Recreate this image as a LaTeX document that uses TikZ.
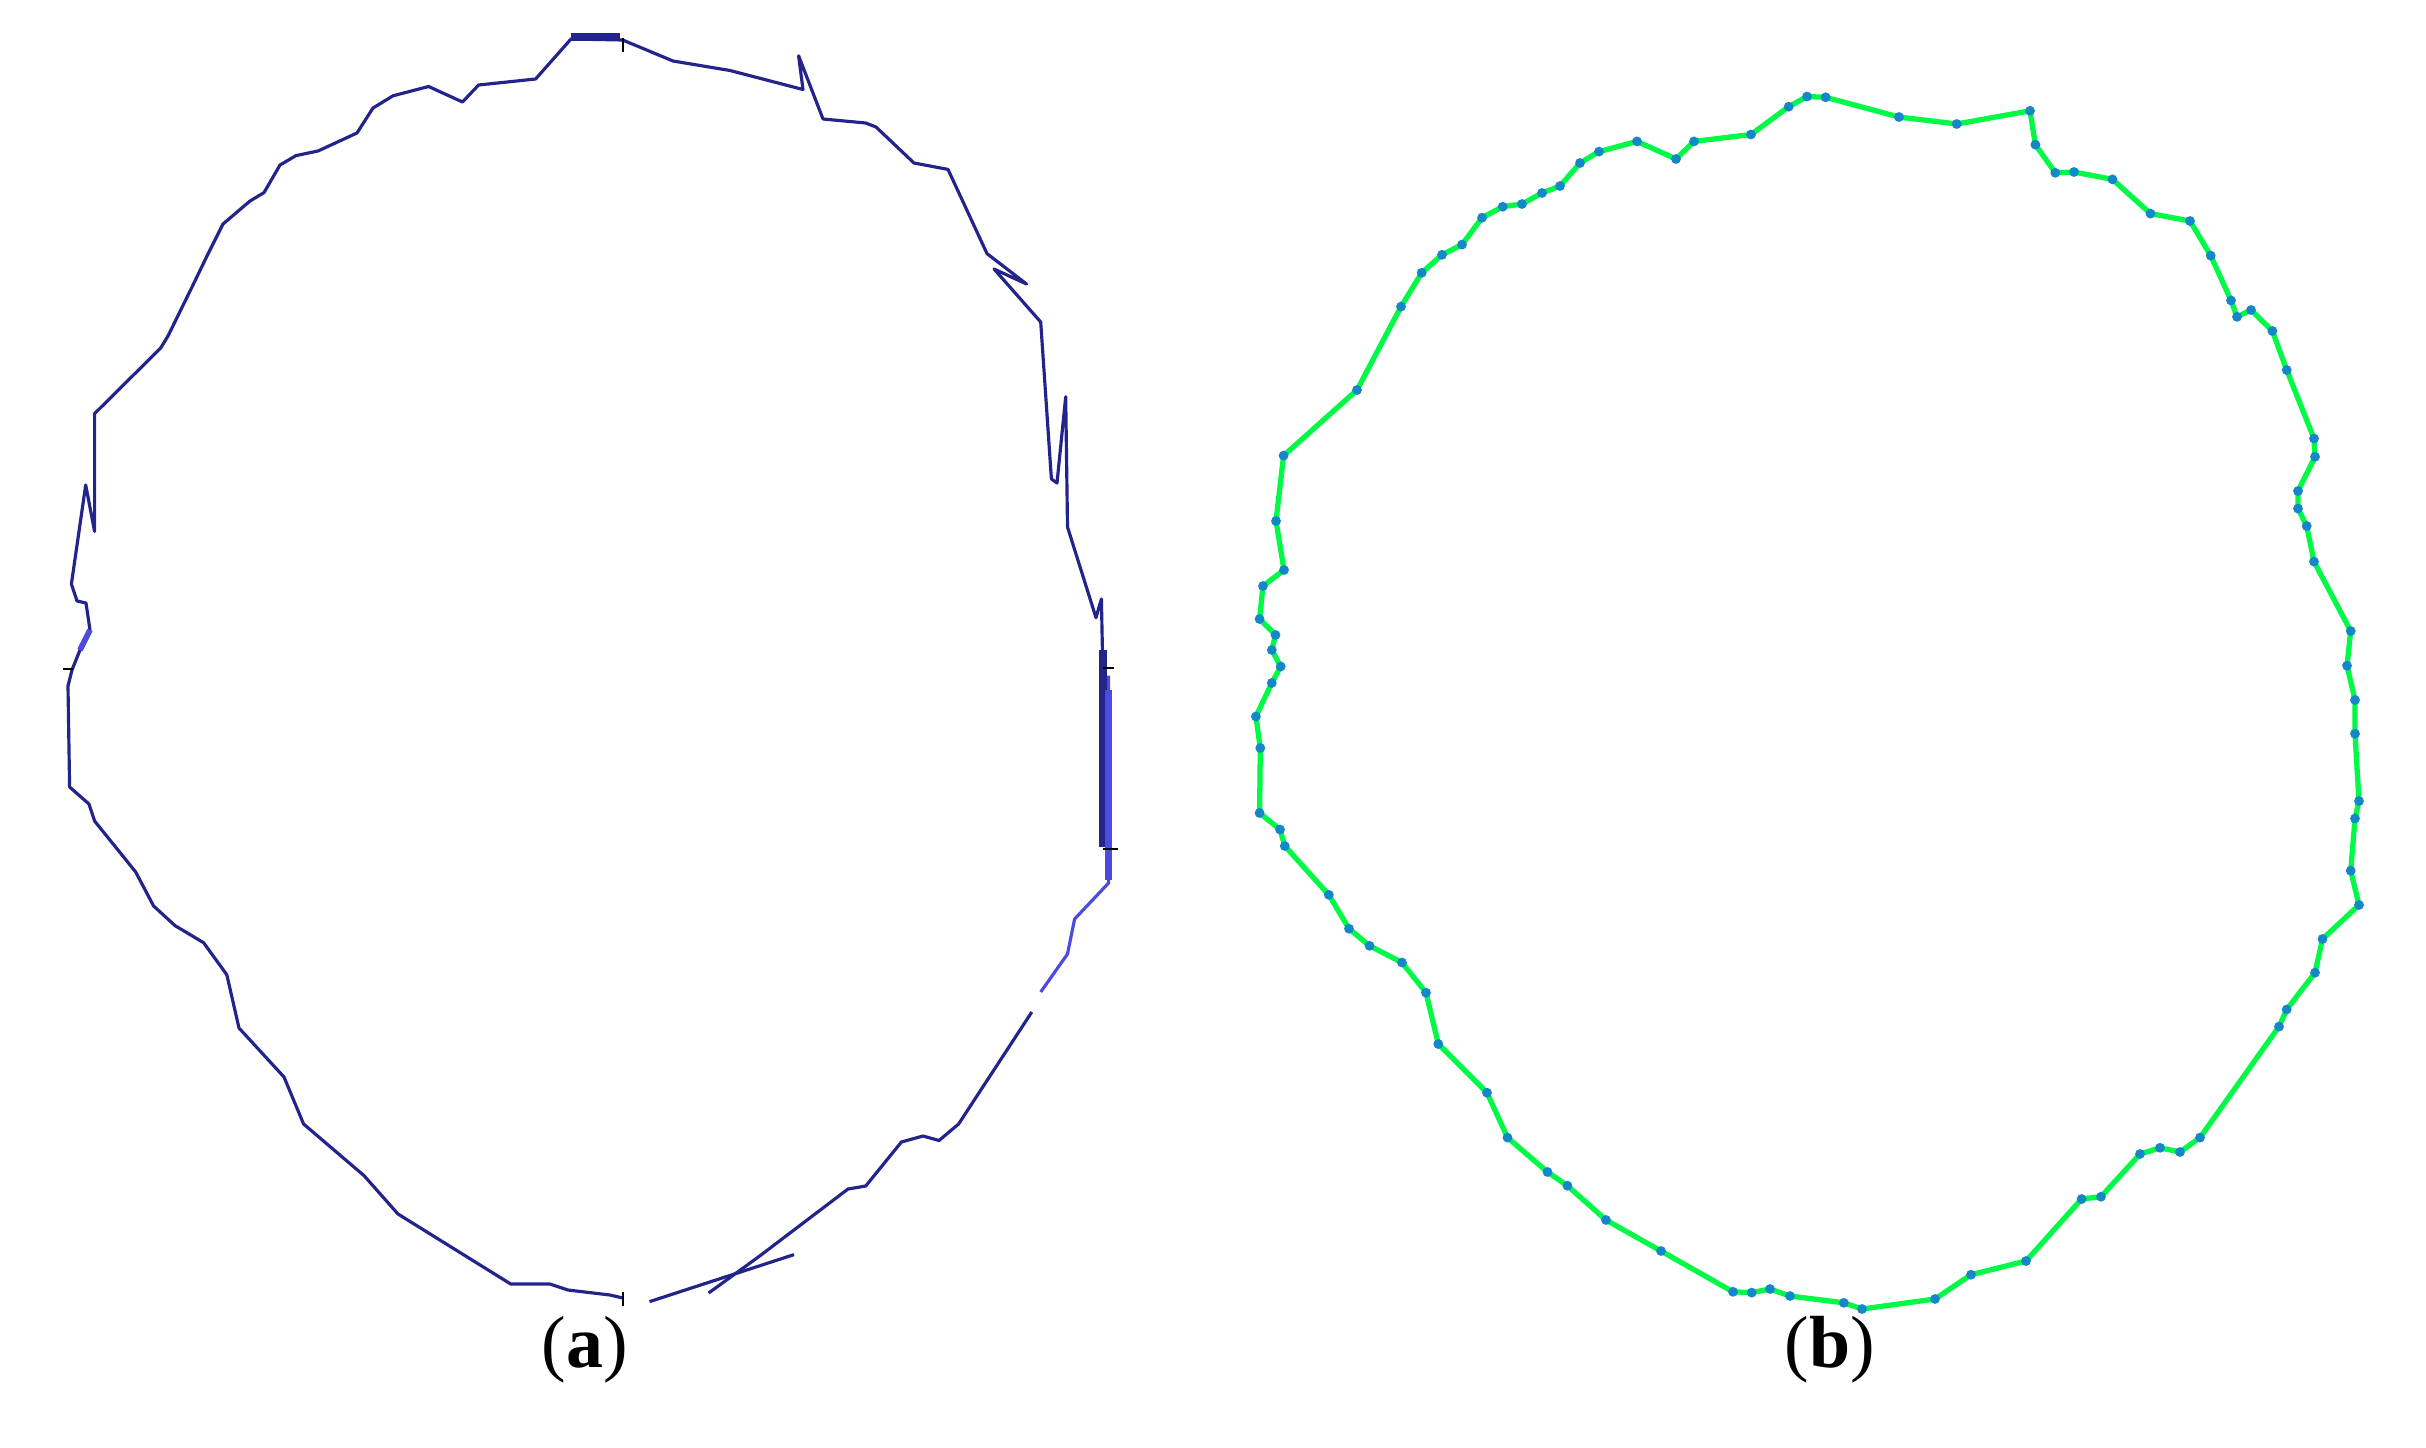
\documentclass[tikz,border=0pt]{standalone}
\usepackage{fontspec}
\setmainfont{Liberation Serif}
\definecolor{bluedark}{RGB}{35,35,140}
\definecolor{bluelight}{RGB}{75,75,225}
\definecolor{greenline}{RGB}{0,250,70}
\definecolor{dotblue}{RGB}{20,135,200}
\begin{document}
\begin{tikzpicture}[x=0.01cm,y=-0.01cm,
  bluepath/.style={draw=bluedark,line width=0.9pt,line join=round},
  bluethin/.style={draw=bluelight,line width=0.9pt,line join=round},
  greenpath/.style={draw=greenline,line width=1.5pt,line join=round},
  greendot/.style={fill=dotblue},
  tickmark/.style={draw=black,line width=0.7pt},
  caption/.style={font=\fontsize{21}{25}\selectfont,inner sep=0pt}]
\useasboundingbox[fill=white] (0,0) rectangle (2426,1448);

% ---------- (a) blue contour ----------
\draw[bluepath] (623,1298) -- (610,1295) -- (568,1290) -- (550,1284) -- (510.7,1284)
  -- (398,1214) -- (364,1175.6) -- (303.6,1124) -- (284,1077) -- (239,1028)
  -- (226.8,974.7) -- (203.6,942.7) -- (175,925.6) -- (153.6,906) -- (135.7,872)
  -- (94.6,821) -- (89,804) -- (69.6,787) -- (68,686) -- (72,670) -- (82,645)
  -- (90,630) -- (86,603) -- (77,601) -- (71.4,584) -- (85.7,485) -- (94.6,531.4)
  -- (94.6,413.6) -- (160.7,348) -- (168,336) -- (193,285) -- (207,256) -- (223,224)
  -- (250,201) -- (264,192.6) -- (280,165) -- (296,155.6) -- (318,151) -- (357,133)
  -- (373,108) -- (393,95.8) -- (428.6,86.5) -- (462.5,102) -- (478.6,85)
  -- (535.6,79) -- (571,39) -- (623,40) -- (626,41.4) -- (673,61) -- (730,70.5)
  -- (803,89.5) -- (798.6,55.8) -- (823,119) -- (865.7,123) -- (876,127) -- (914,163)
  -- (948,169.4) -- (987,253.6) -- (1026.5,284) -- (994,269) -- (1040.7,322)
  -- (1051.4,479) -- (1057,483) -- (1065.7,396.8) -- (1067.5,527) -- (1096,617.7)
  -- (1101.4,599) -- (1103,680) -- (1103,846.6);
\draw[bluedark,line width=2.2pt] (571,37) -- (620,37);
\draw[bluedark,line width=2pt] (1103,650) -- (1103,846.6);
\draw[bluethin] (1108.6,675.6) -- (1108.6,883) -- (1074.6,919) -- (1067.5,954) -- (1040.7,992);
\draw[bluelight,line width=2pt] (1108.6,690) -- (1108.6,880);
\draw[bluepath] (1031.8,1012) -- (958.6,1124) -- (939,1140.5) -- (923,1136)
  -- (901.4,1142) -- (865.7,1186) -- (848,1189) -- (758.6,1256.8) -- (708.6,1293);
\draw[bluepath] (794,1254.6) -- (649.6,1301.6);
\draw[bluelight,line width=1.6pt] (80,650) -- (90,630);
% small axis ticks
\draw[tickmark] (623,38) -- (623,52);
\draw[tickmark] (623,1292) -- (623,1306);
\draw[tickmark] (63,669) -- (73,669);
\draw[tickmark] (1103,668) -- (1114,668);
\draw[tickmark] (1103,849) -- (1118,849);

% ---------- (b) green contour ----------
\foreach \x/\y [count=\i] in {1807/96.5,1825.7/97.3,1899/117,1956.7/124,2030/110.8,
  2035.4/144.7,2055.3/172.8,2074/172,2112.5/179.4,2150.5/213.6,2190/221,2210.7/255.6,
  2231/300.5,2237/316.8,2251/310,2272.4/331,2286.7/370,2314/438.5,2315/456.8,
  2298/491,2298/508.6,2306.7/526,2314/561.6,2350.7/631,2347/665.7,2355/700,
  2355/733.7,2359/801,2355/818.5,2350.7/870.7,2359/905,2322.5/939,2315/972.7,
  2286.7/1009.5,2279/1026.6,2200/1137.6,2180/1152,2160/1147.8,2140/1154,
  2101/1196.7,2081.6/1199,2026/1261,1971/1274.7,1935/1299,1862/1309,1843.8/1302.8,
  1790/1296,1770/1289,1751.7/1292.6,1733/1291.8,1661/1251,1606/1220,1567.4/1185.7,
  1547.5/1172,1507.5/1137.6,1487/1092.7,1438.3/1044,1426/992.7,1402/962.5,
  1369.5/945.8,1349/928.7,1328.8/894.8,1284.8/846,1280/829.5,1259.6/813,
  1260.3/748,1255.9/716.5,1271.8/683,1280.7/666.5,1271.8/650,1275.5/635,
  1259.6/619,1263/586,1284/570,1276/521,1283.6/455.6,1357/390,1401/306.6,
  1421.7/272.8,1442/254.8,1462/244.6,1482/217.7,1502.7/206.7,1522/204,1542/193,
  1560/186,1580/163,1599/151.6,1637/141.4,1676/159,1694/141.4,1751/134.5,1788.7/106.7}
  {\coordinate (g\i) at (\x,\y);}
\draw[greenpath] (g1) foreach \i in {2,...,93} {-- (g\i)} -- cycle;
\foreach \i in {1,...,93} {\fill[greendot] (g\i) circle (1.4pt);}

% ---------- captions ----------
\node[caption] (capa) at (585,1350) {(\textbf{a})};
\node[caption] (capb) at (1830,1350) {(\textbf{b})};
\end{tikzpicture}
\end{document}
